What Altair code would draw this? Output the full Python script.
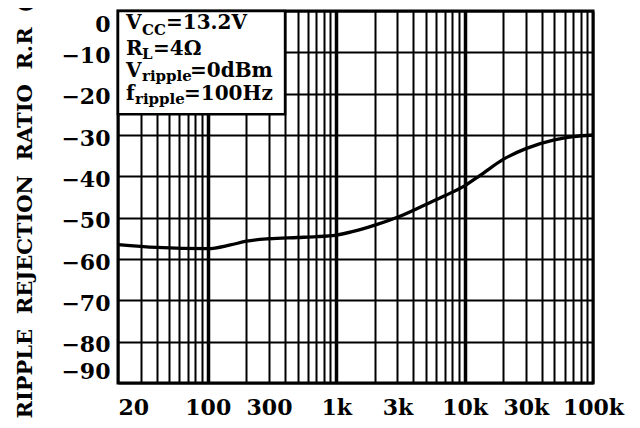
import altair as alt
import pandas as pd

# ---- data ----
freq_hz = [20, 40, 100, 150, 200, 300, 500, 700, 1000, 2000, 3000, 5000, 7000,
           10000, 13300, 20000, 30000, 50000, 70000, 100000]
rr_db = [-56.5, -57.2, -57.5, -56.6, -55.7, -55.1, -54.8, -54.6, -54.2, -51.8,
         -49.9, -46.8, -44.7, -42.3, -39.7, -35.9, -33.3, -31.2, -30.4, -30.0]

x_grid = [20, 30, 40, 50, 60, 70, 80, 90,
          100, 200, 300, 400, 500, 600, 700, 800, 900,
          1000, 2000, 3000, 4000, 5000, 6000, 7000, 8000, 9000,
          10000, 20000, 30000, 40000, 50000, 60000, 70000, 80000, 90000, 100000]
x_label_values = [20, 100, 300, 1000, 3000, 10000, 30000, 100000]
x_label_texts = ["20", "100", "300", "1k", "3k", "10k", "30k", "100k"]
decades = [100, 1000, 10000]

y_grid = [0, -5, -10, -15, -20, -25, -30, -35, -40, -45, -50, -55, -60, -65,
          -70, -75, -80, -85, -90]

y_title = "RIPPLE\u00a0\u00a0REJECTION\u00a0\u00a0RATIO\u00a0\u00a0R.R\u00a0\u00a0(dB)"

FONT = "DejaVu Serif"

df = pd.DataFrame({"f": freq_hz, "rr": rr_db})
one = pd.DataFrame({"k": [0]})

# label expression built from the label lists
expr = "''"
for v, t in zip(reversed(x_label_values), reversed(x_label_texts)):
    expr = f"datum.value == {v} ? '{t}' : ({expr})"

x_scale = alt.Scale(type="log", domain=[20, 100000], nice=False)
y_scale = alt.Scale(domain=[-90, 0], nice=False, zero=False)

x_axis = alt.Axis(
    values=x_grid, labelExpr=expr, ticks=False, domain=False,
    grid=True, gridColor="black", gridOpacity=1,
    gridWidth={"condition": {"test": "indexof(" + str(decades) + ", datum.value) >= 0", "value": 3.5}, "value": 2},
    labelFont=FONT, labelFontSize=22, labelFontWeight="bold", labelColor="black",
    labelPadding=14, labelFlush=False, labelOverlap=False, labelBound=False,
    labelAlign={"condition": {"test": "datum.value == 20", "value": "left"}, "value": "center"},
    title=None,
)
y_axis = alt.Axis(
    values=y_grid, labelExpr="datum.value % 10 == 0 ? datum.label : ''",
    ticks=False, domain=False,
    grid=True, gridColor="black", gridOpacity=1, gridWidth=2,
    labelFont=FONT, labelFontSize=22, labelFontWeight="bold", labelColor="black",
    labelPadding=8, labelFlush=True, labelOverlap=False,
    labelOffset={"condition": {"test": "datum.value == -90", "value": 0}, "value": 3},
    title=y_title, titleFont=FONT, titleFontSize=21, titleFontWeight="bold",
    titleColor="black", titleAngle=270, titleAlign="left", titleBaseline="middle",
    titleX=-93, titleY=407,
)

curve = alt.Chart(df).mark_line(color="black", strokeWidth=3.3, interpolate="monotone").encode(
    x=alt.X("f:Q", scale=x_scale, axis=x_axis),
    y=alt.Y("rr:Q", scale=y_scale, axis=y_axis),
)

box = alt.Chart(one).mark_rect(fill="white", stroke="black", strokeWidth=2.5).encode(
    x=alt.datum(20), x2=alt.datum(400), y=alt.datum(0), y2=alt.datum(-25)
)


def txt(s, px, py, size):
    return alt.Chart(one).mark_text(
        align="left", baseline="alphabetic", font=FONT, fontWeight="bold",
        fontSize=size, color="black"
    ).encode(x=alt.value(px), y=alt.value(py), text=alt.value(s))


labels = [
    txt("V", 8, 18, 20), txt("CC", 24, 24, 15), txt("=13.2V", 48, 18, 20),
    txt("R", 8, 44, 20), txt("L", 24, 48, 15), txt("=4\u03a9", 35, 44, 20),
    txt("V", 8, 66, 20), txt("ripple", 24, 70, 15), txt("=0dBm", 72, 66, 20),
    txt("f", 8, 89, 20), txt("ripple", 17, 93, 15), txt("=100Hz", 66, 89, 20),
]

chart = alt.layer(curve, box, *labels).properties(
    width=475, height=372,
    padding={"left": 110, "top": 3, "right": 39, "bottom": 37},
    autosize=alt.AutoSizeParams(type="none"),
).configure_view(stroke="black", strokeWidth=3)

chart.save("out.html", embed_options={"renderer": "svg", "actions": False})
